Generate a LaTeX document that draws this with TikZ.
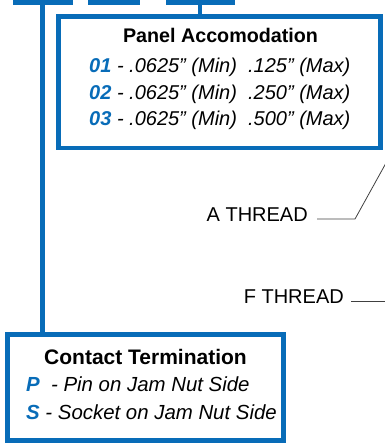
\documentclass[tikz,border=0pt]{standalone}
\usepackage{fontspec}
\setmainfont{Liberation Sans}
\definecolor{brandblue}{RGB}{8,108,184}
\begin{document}
\begin{tikzpicture}[x=1pt,y=-1pt,
  bar/.style={fill=brandblue,draw=none},
  boxline/.style={draw=brandblue,line width=4.8pt},
  stem/.style={draw=brandblue,line width=4.8pt},
  lead/.style={draw=black!75,line width=0.8pt},
  txt/.style={inner sep=0pt,anchor=mid west,font=\fontsize{20}{22}\selectfont\itshape},
  ttl/.style={inner sep=0pt,anchor=mid,font=\fontsize{19.7}{22}\selectfont\bfseries},
  lbl/.style={inner sep=0pt,font=\fontsize{20}{22}\selectfont}]
\useasboundingbox (0,0) rectangle (384,445);
% top bars
\fill[bar] (13,0) rectangle (73,5);
\fill[bar] (88,0) rectangle (140,5);
\fill[bar] (166,0) rectangle (235,5);
\coordinate (b1) at (42.5,0);
\coordinate (b3) at (200,0);
% panel box
\draw[boxline] (58.5,16.5) rectangle (380.5,148);
\coordinate (pt) at (200,16.5);
\draw[stem] (b3) -- (pt);
\node[ttl] (ptitle) at (220.5,40) {Panel Accomodation};
\node[txt] (p1) at (89,70) {\textcolor{brandblue}{\bfseries 01} - .0625\symbol{34} (Min)\ \ .125\symbol{34} (Max)};
\node[txt] (p2) at (89,97) {\textcolor{brandblue}{\bfseries 02} - .0625\symbol{34} (Min)\ \ .250\symbol{34} (Max)};
\node[txt] (p3) at (89,123) {\textcolor{brandblue}{\bfseries 03} - .0625\symbol{34} (Min)\ \ .500\symbol{34} (Max)};
% contact box
\draw[boxline] (7.5,334.5) rectangle (283.5,440.5);
\coordinate (ct) at (42.5,334.5);
\draw[stem] (b1) -- (ct);
\node[ttl,font=\fontsize{21}{23}\selectfont\bfseries] (ctitle) at (145.5,362) {Contact Termination};
\node[txt,font=\fontsize{20.4}{22}\selectfont\itshape] (c1) at (26,389) {\textcolor{brandblue}{\bfseries P}\ \ - Pin on Jam Nut Side};
\node[txt,font=\fontsize{20.4}{22}\selectfont\itshape] (c2) at (26,417) {\textcolor{brandblue}{\bfseries S} - Socket on Jam Nut Side};
% thread labels
\node[lbl,anchor=mid east] (at) at (308,219) {A THREAD};
\coordinate (a1) at (317,219);
\coordinate (a2) at (355,219);
\coordinate (a3) at (386,163);
\draw[lead] (a1) -- (a2) -- (a3);
\node[lbl,anchor=mid east] (ft) at (344,301) {F THREAD};
\coordinate (f1) at (351,301);
\coordinate (f2) at (386,301);
\draw[lead] (f1) -- (f2);
\end{tikzpicture}
\end{document}
